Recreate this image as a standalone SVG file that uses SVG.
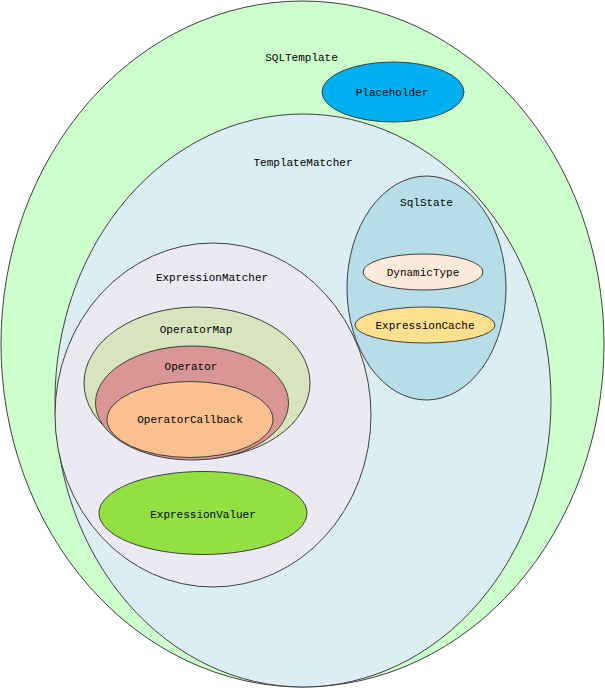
<svg xmlns="http://www.w3.org/2000/svg" width="605" height="688" viewBox="0 0 605 688">
  <style>
    ellipse { stroke: #404040; stroke-width: 1; }
    text { font-family: "Liberation Mono", "DejaVu Sans Mono", monospace; font-size: 11px; fill: #000; text-anchor: middle; }
  </style>
  <rect width="605" height="688" fill="#fff"/>
  <g id="sqltemplate">
    <ellipse cx="302.5" cy="344" rx="301.5" ry="343" fill="#ccffcc"/>
    <text x="301.5" y="61">SQLTemplate</text>
  </g>
  <g id="placeholder">
    <ellipse cx="393" cy="92" rx="71" ry="30" fill="#00b0f0"/>
    <text x="392" y="96">Placeholder</text>
  </g>
  <g id="templatematcher">
    <ellipse cx="303" cy="400.5" rx="248" ry="286.5" fill="#daeef3"/>
    <text x="303" y="166">TemplateMatcher</text>
  </g>
  <g id="sqlstate">
    <ellipse cx="426.5" cy="288" rx="79.5" ry="112" fill="#b7dde8"/>
    <text x="426.5" y="206">SqlState</text>
  </g>
  <g id="dynamictype">
    <ellipse cx="423" cy="272" rx="60" ry="18" fill="#fdeada"/>
    <text x="423" y="276">DynamicType</text>
  </g>
  <g id="expressioncache">
    <ellipse cx="425" cy="325" rx="70" ry="18" fill="#ffe08f"/>
    <text x="425" y="329">ExpressionCache</text>
  </g>
  <g id="expressionmatcher">
    <ellipse cx="213" cy="415" rx="158" ry="172" fill="#ebe9f1"/>
    <text x="212" y="281">ExpressionMatcher</text>
  </g>
  <g id="operatormap">
    <ellipse cx="197" cy="383" rx="113" ry="76" fill="#d7e4bd"/>
    <text x="196" y="333">OperatorMap</text>
  </g>
  <g id="operator">
    <ellipse cx="192" cy="403" rx="96.5" ry="57" fill="#d99694"/>
    <text x="191" y="370">Operator</text>
  </g>
  <g id="operatorcallback">
    <ellipse cx="190" cy="419.5" rx="83" ry="38" fill="#fac090"/>
    <text x="190" y="423">OperatorCallback</text>
  </g>
  <g id="expressionvaluer">
    <ellipse cx="203" cy="513" rx="104" ry="41.5" fill="#92e041"/>
    <text x="203" y="518">ExpressionValuer</text>
  </g>
</svg>
